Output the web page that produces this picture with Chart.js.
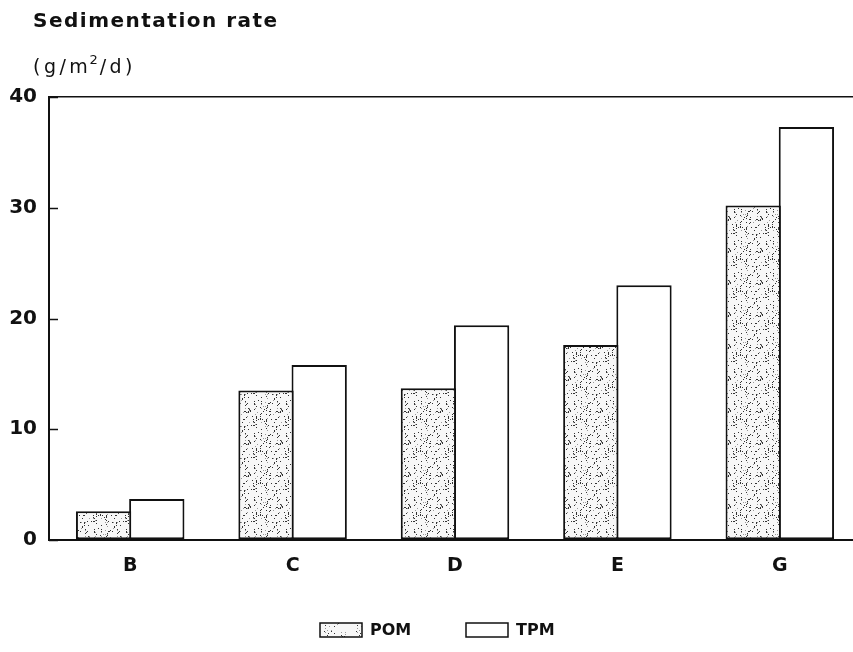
<!DOCTYPE html>
<html>
<head>
<meta charset="utf-8">
<script src="https://cdn.jsdelivr.net/npm/chart.js@4/dist/chart.umd.min.js"></script>
<style>
  html, body { margin: 0; padding: 0; background: #fff; overflow: hidden; }
  #wrap { width: 853px; height: 652px; position: relative; }
</style>
</head>
<body>
<div id="wrap"><canvas id="c" width="853" height="652"></canvas></div>
<script>
// ---- data ----
const categories = ['B', 'C', 'D', 'E', 'G'];
const pomValues = [2.6, 13.5, 13.7, 17.6, 30.2];
const tpmValues = [3.7, 15.8, 19.4, 23.0, 37.3];
const yTicks = [0, 10, 20, 30, 40];
const seriesNames = ['POM', 'TPM'];
const titleText = 'Sedimentation rate';
const unitParts = ['(g/m', '2', '/d)'];

// ---- stipple pattern (deterministic texture) ----
function makeStipple(density) {
  const s = 32;
  const pc = document.createElement('canvas');
  pc.width = s; pc.height = s;
  const p = pc.getContext('2d');
  p.fillStyle = '#f7f7f7';
  p.fillRect(0, 0, s, s);
  for (let y = 0; y < s; y++) {
    for (let x = 0; x < s; x++) {
      const h = ((x * 73856093) ^ (y * 19349663) ^ ((x + y) * 83492791)) >>> 0;
      const v = (h % 1000) / 1000;
      if (v < density) {
        p.fillStyle = (h % 4 === 0) ? '#333' : '#9a9a9a';
        p.fillRect(x, y, 1, 1);
      }
    }
  }
  return p.createPattern(pc, 'repeat');
}
const stipple = makeStipple(0.10);
const stippleLight = makeStipple(0.04);

const FONT = '"DejaVu Sans", sans-serif';

// the plot in the original is cropped on the right: the category axis runs past the picture edge
const widenPlugin = {
  id: 'widen',
  afterLayout(chart) {
    const xs = chart.scales.x;
    const right = xs.left + 812;
    xs.right = right;
    xs.width = right - xs.left;
    chart.chartArea.right = right;
    chart.chartArea.width = right - chart.chartArea.left;
    xs.configure();
  }
};

const decorPlugin = {
  id: 'decor',
  afterDraw(chart) {
    const ctx = chart.ctx;
    const area = chart.chartArea;
    const y = chart.scales.y;
    ctx.save();
    // inward tick marks
    ctx.strokeStyle = '#111';
    ctx.lineWidth = 1.5;
    yTicks.forEach(v => {
      const py = Math.round(y.getPixelForValue(v)) + 0.5;
      ctx.beginPath();
      ctx.moveTo(area.left, py);
      ctx.lineTo(area.left + 9, py);
      ctx.stroke();
    });
    // title
    ctx.fillStyle = '#111';
    ctx.textBaseline = 'alphabetic';
    ctx.textAlign = 'left';
    ctx.font = 'bold 20px ' + FONT;
    ctx.letterSpacing = '1.5px';
    ctx.fillText(titleText, 33, 27);
    // unit
    ctx.font = '19px ' + FONT;
    ctx.letterSpacing = '3.5px';
    let x = 33;
    ctx.fillText(unitParts[0], x, 73);
    x += ctx.measureText(unitParts[0]).width - 2;
    ctx.font = '13px ' + FONT;
    ctx.letterSpacing = '1px';
    ctx.fillText(unitParts[1], x, 64);
    x += ctx.measureText(unitParts[1]).width + 1;
    ctx.font = '19px ' + FONT;
    ctx.letterSpacing = '3.5px';
    ctx.fillText(unitParts[2], x, 73);
    ctx.letterSpacing = '0px';
    // legend
    const boxes = [{x: 320, fill: stippleLight}, {x: 466, fill: '#fff'}];
    ctx.font = 'bold 16px ' + FONT;
    ctx.textBaseline = 'middle';
    chart.data.datasets.forEach((ds, i) => {
      const bx = boxes[i].x, by = 623;
      ctx.fillStyle = boxes[i].fill;
      ctx.fillRect(bx, by, 42, 14);
      ctx.strokeStyle = '#111';
      ctx.lineWidth = 1.5;
      ctx.strokeRect(bx, by, 42, 14);
      ctx.fillStyle = '#111';
      ctx.fillText(ds.label, bx + 50, by + 8);
    });
    ctx.restore();
  }
};

new Chart(document.getElementById('c'), {
  type: 'bar',
  data: {
    labels: categories,
    datasets: [
      { label: seriesNames[0], data: pomValues, backgroundColor: stipple,
        borderColor: '#111', borderWidth: 2, borderSkipped: false },
      { label: seriesNames[1], data: tpmValues, backgroundColor: '#fff',
        borderColor: '#111', borderWidth: 2, borderSkipped: false }
    ]
  },
  options: {
    responsive: false,
    animation: false,
    devicePixelRatio: 1,
    layout: { padding: { top: 97, right: 0, left: 0, bottom: 0 } },
    datasets: { bar: { categoryPercentage: 0.655, barPercentage: 1.04 } },
    plugins: { legend: { display: false }, tooltip: { enabled: false }, title: { display: false } },
    scales: {
      x: {
        grid: { display: false, drawTicks: false },
        border: { color: '#111', width: 2 },
        ticks: { color: '#111', padding: 15, font: { family: FONT, size: 19, weight: 'bold' } },
        afterFit(s) { s.height = 112; }
      },
      y: {
        min: 0, max: 40,
        afterBuildTicks(s) { s.ticks = yTicks.map(v => ({ value: v })); },
        grid: {
          drawTicks: false,
          color: c => (c.tick && c.tick.value === 40) ? '#111' : 'rgba(0,0,0,0)',
          lineWidth: 1.5
        },
        border: { color: '#111', width: 2 },
        ticks: { color: '#111', padding: 12, font: { family: FONT, size: 20, weight: 'bold' } },
        afterFit(s) { s.width = 49; }
      }
    }
  },
  plugins: [widenPlugin, decorPlugin]
});
</script>
</body>
</html>
